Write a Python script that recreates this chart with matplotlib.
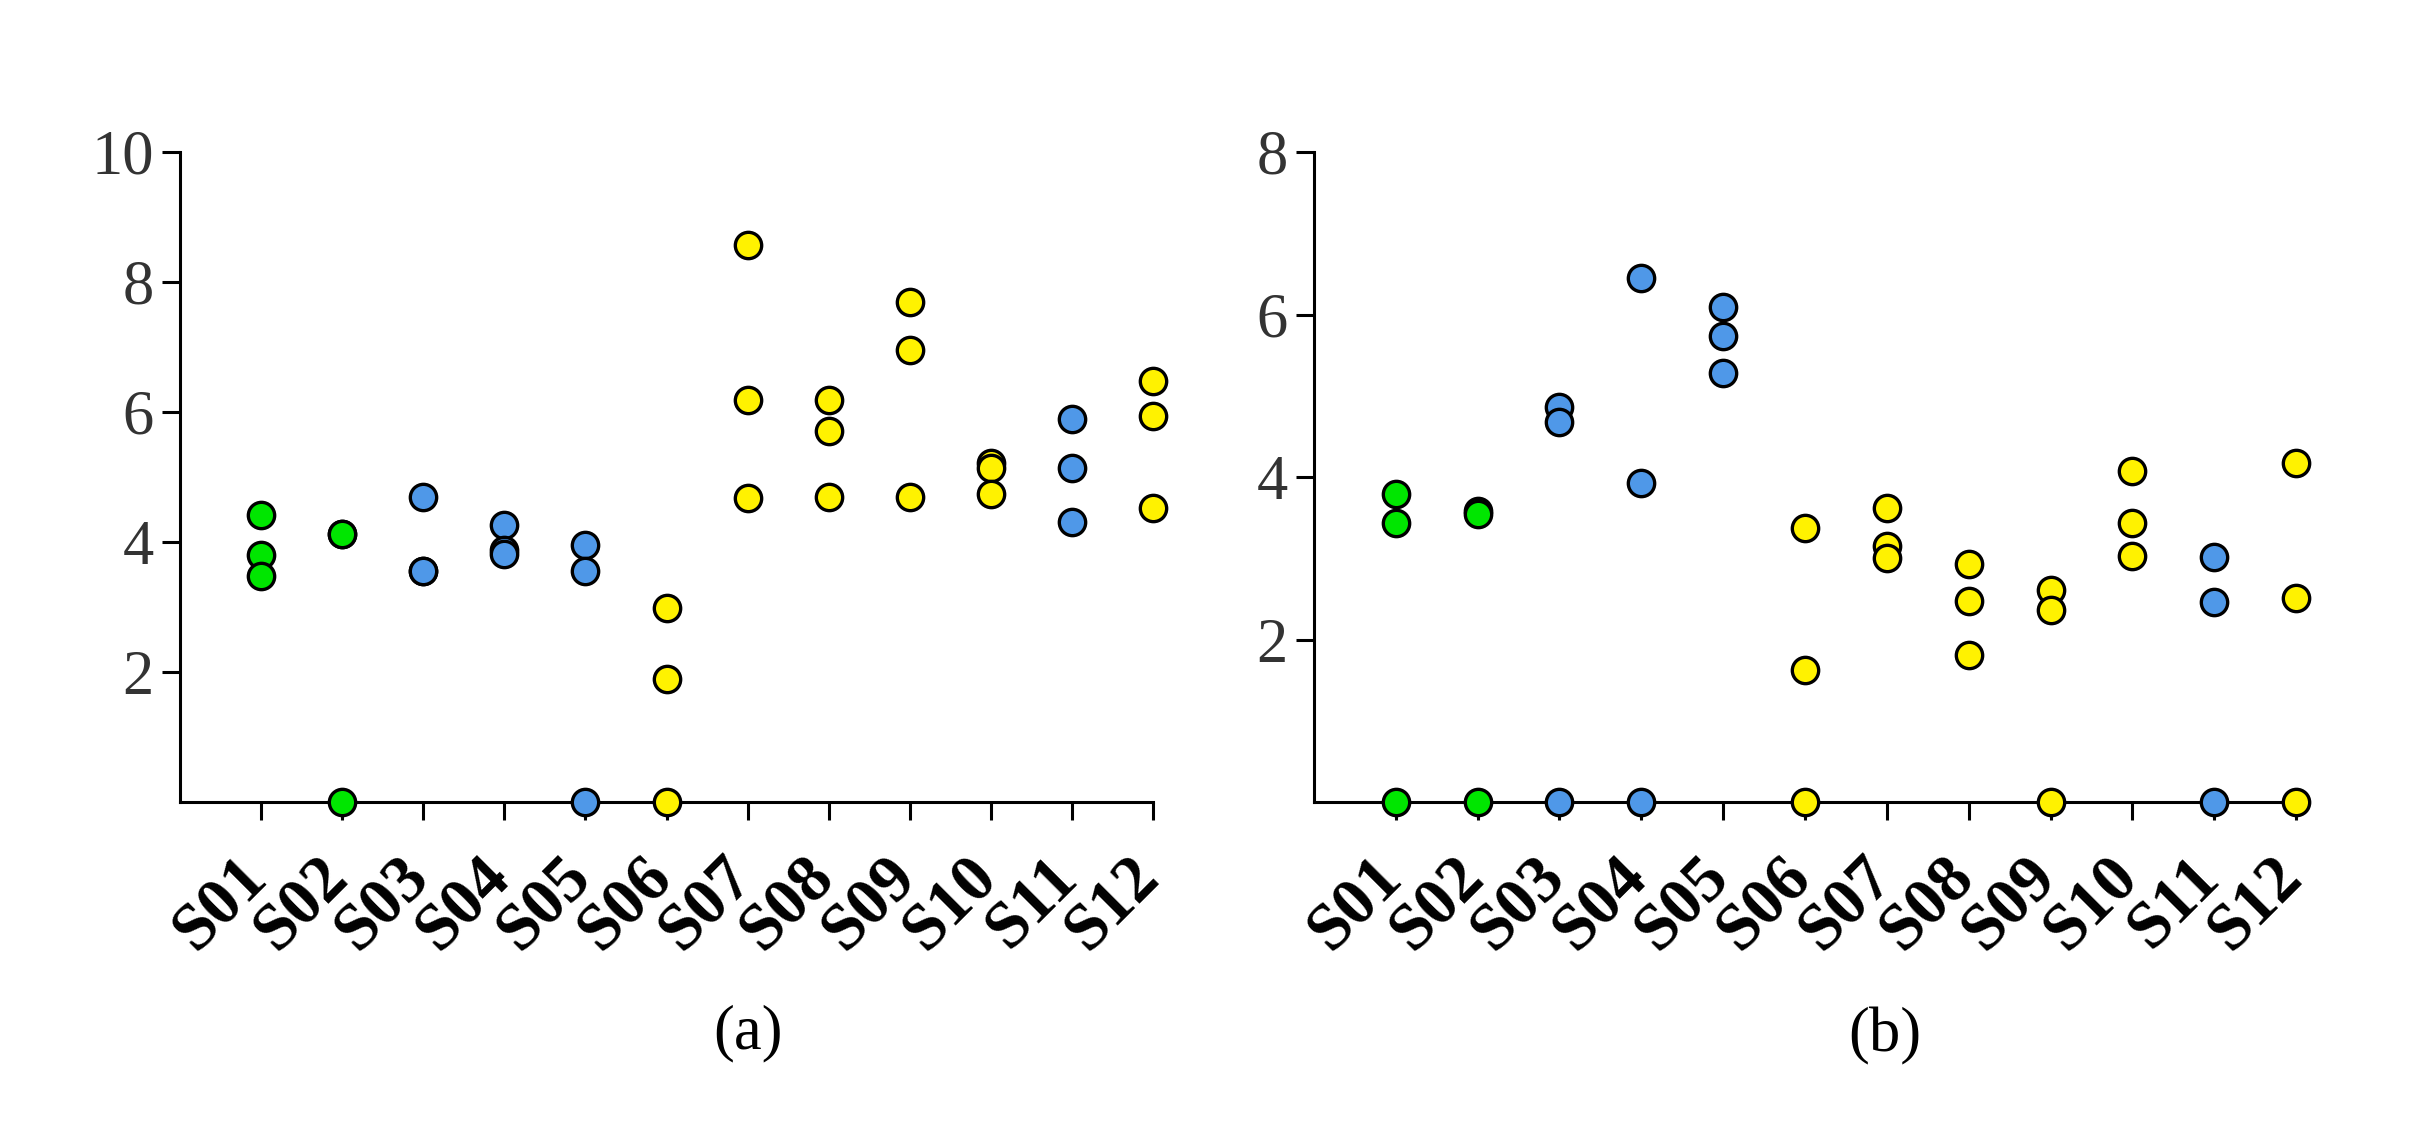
import matplotlib
matplotlib.use("Agg")
import matplotlib.pyplot as plt
import matplotlib.transforms as mtransforms

subjects = ['S01', 'S02', 'S03', 'S04', 'S05', 'S06', 'S07', 'S08', 'S09', 'S10', 'S11', 'S12']
groups = ['g', 'g', 'b', 'b', 'b', 'y', 'y', 'y', 'y', 'y', 'b', 'y']
group_colors = {'g': '#00e600', 'b': '#4f98e8', 'y': '#fff200'}

values_a = [
    [4.42, 3.80, 3.47],
    [4.13, 4.13, 0.0],
    [4.70, 3.56, 3.56],
    [4.26, 3.87, 3.82],
    [3.96, 3.56, 0.0],
    [2.98, 1.89, 0.0],
    [8.57, 6.18, 4.67],
    [6.18, 5.71, 4.70],
    [7.70, 6.96, 4.70],
    [5.22, 5.14, 4.74],
    [5.89, 5.14, 4.31],
    [6.48, 5.94, 4.53],
]

values_b = [
    [3.79, 3.43, 0.0],
    [3.58, 3.54, 0.0],
    [4.86, 4.68, 0.0],
    [6.45, 3.93, 0.0],
    [6.09, 5.74, 5.28],
    [3.37, 1.63, 0.0],
    [3.62, 3.15, 3.00],
    [2.93, 2.48, 1.81],
    [2.61, 2.36, 0.0],
    [4.07, 3.44, 3.03],
    [3.02, 2.46, 0.0],
    [4.17, 2.51, 0.0],
]

yticks_a = [2, 4, 6, 8, 10]
yticks_b = [2, 4, 6, 8]
ymax_a = 10
ymax_b = 8
captions = ['(a)', '(b)']

W, H = 2436, 1143
fig = plt.figure(figsize=(W / 100, H / 100), dpi=100)

serif = ['Liberation Serif', 'DejaVu Serif']
lw = 2.2


def panel(rect, values, yticks, ymax):
    ax = fig.add_axes(rect)
    for i, vals in enumerate(values):
        c = group_colors[groups[i]]
        ax.scatter([i] * len(vals), vals, s=360, c=c, edgecolors='black',
                   linewidths=2.4, zorder=3, clip_on=False)
    ax.set_xlim(-1, len(subjects) - 1)
    ax.set_ylim(0, ymax)
    ax.spines['top'].set_visible(False)
    ax.spines['right'].set_visible(False)
    ax.spines['left'].set_linewidth(lw)
    ax.spines['bottom'].set_linewidth(lw)
    ax.set_yticks(yticks)
    ax.set_yticklabels([str(t) for t in yticks], fontfamily=serif, fontsize=45, color='#333333')
    ax.set_xticks(range(len(subjects)))
    ax.set_xticklabels(subjects, fontfamily=serif, fontsize=48, fontweight='bold',
                       rotation=45, ha='right', va='top', rotation_mode='anchor')
    ax.tick_params(axis='y', length=13, width=lw, pad=6)
    ax.tick_params(axis='x', length=13, width=lw, pad=19)
    offset = mtransforms.ScaledTranslation(-18 / 72, 0, fig.dpi_scale_trans)
    for lab in ax.get_xticklabels():
        lab.set_transform(lab.get_transform() + offset)
    return ax


axA = panel([180 / W, 1 - 802 / H, (1153 - 180) / W, (802 - 152) / H], values_a, yticks_a, ymax_a)
axB = panel([1314 / W, 1 - 802 / H, (2296 - 1314) / W, (802 - 152) / H], values_b, yticks_b, ymax_b)

fig.text(748 / W, 1 - 1033 / H, captions[0], ha='center', va='center', fontfamily=serif, fontsize=45)
fig.text(1885 / W, 1 - 1036 / H, captions[1], ha='center', va='center', fontfamily=serif, fontsize=45)

fig.savefig('out.png', dpi=100, facecolor='white')
